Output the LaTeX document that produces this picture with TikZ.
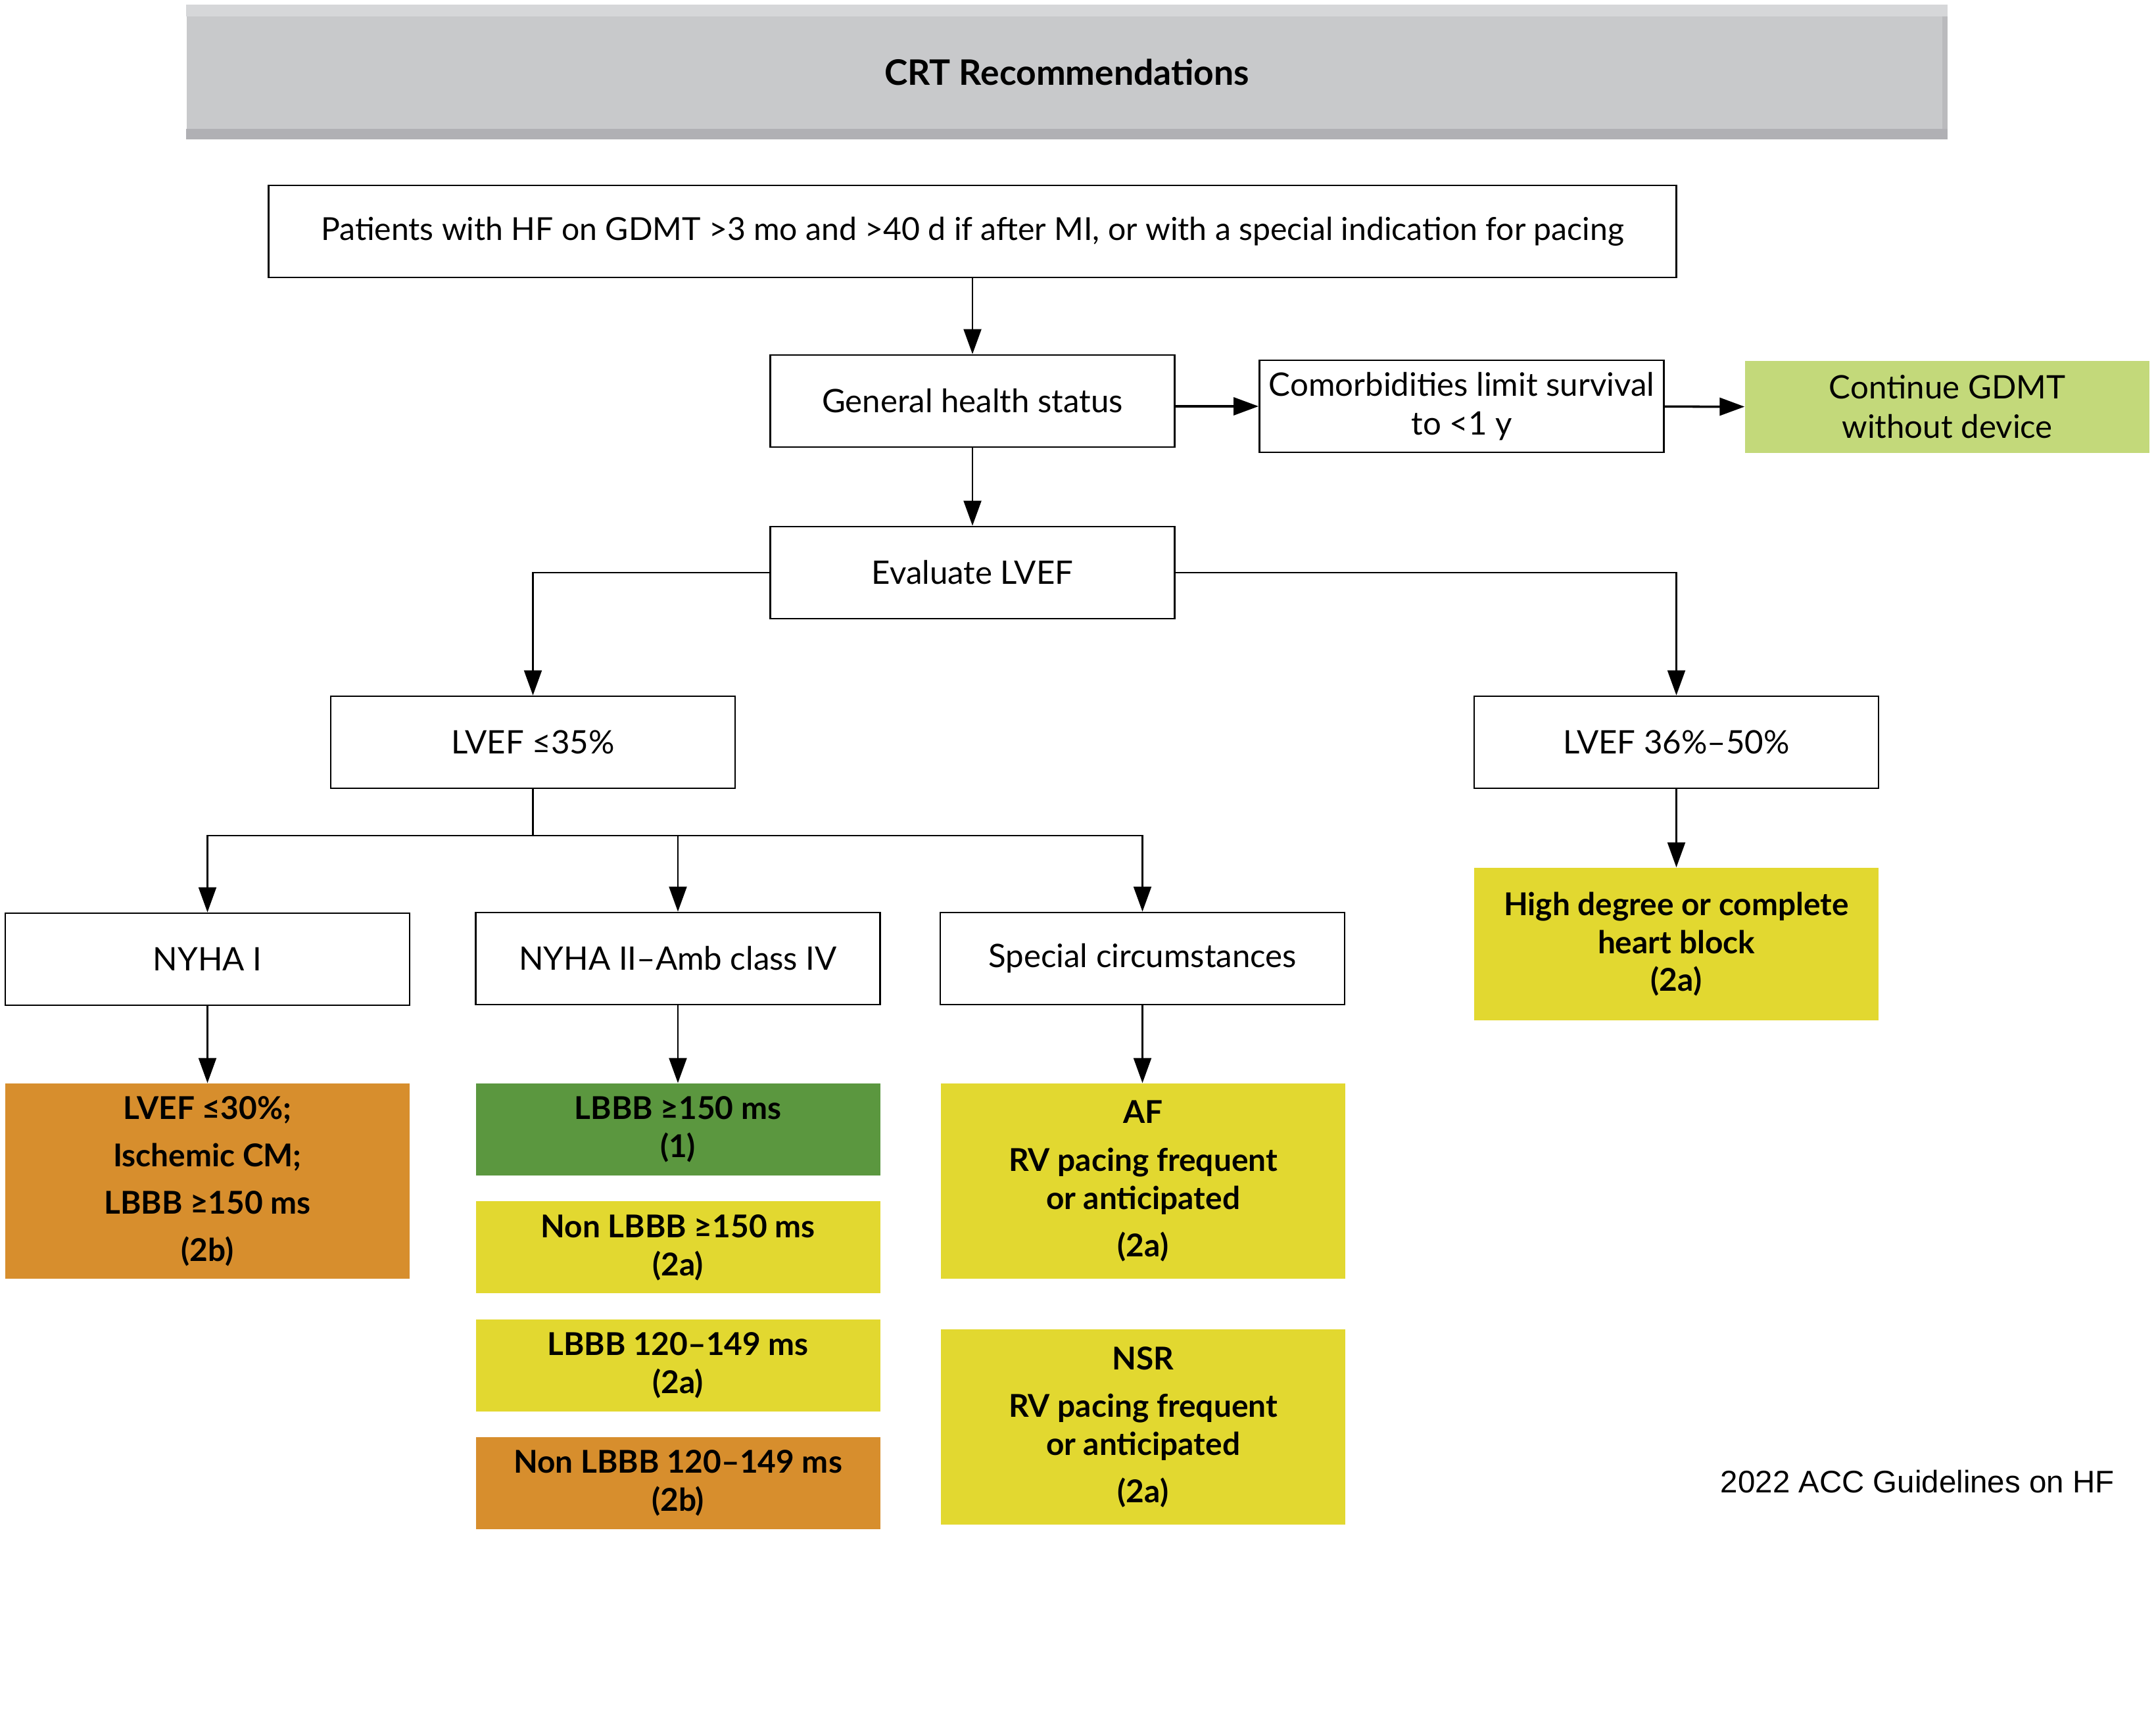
\documentclass[tikz,border=0pt]{standalone}
\usepackage{fontspec}
\setmainfont{Lato}
\newfontfamily\footfont{Liberation Sans}
\usetikzlibrary{positioning,arrows.meta}
\definecolor{titlegray}{HTML}{C8C9CB}
\definecolor{titletop}{HTML}{D6D7D9}
\definecolor{titlebot}{HTML}{B0B0B4}
\definecolor{paleg}{HTML}{C3D97A}
\definecolor{darkg}{HTML}{5B973F}
\definecolor{yell}{HTML}{E2D830}
\definecolor{oran}{HTML}{D78E2D}

\begin{document}
\begin{tikzpicture}[
  box/.style={draw,line width=0.8pt,minimum width=6.15cm,minimum height=1.4cm,
    align=center,font=\fontsize{14}{17}\selectfont},
  rec/.style={fill=#1,minimum width=6.15cm,minimum height=1.4cm,
    align=center,font=\bfseries\fontsize{13.6}{16.5}\selectfont},
  arr/.style={-{Triangle[length=0.38cm,width=0.27cm]},line width=0.6pt},
  node distance=0.38cm]
\useasboundingbox (0,0) rectangle (32.79,-26);

% title bar
\node[fill=titlegray,minimum width=26.77cm,minimum height=2.03cm,
  font=\bfseries\fontsize{15.2}{18}\selectfont] (title) at (16.225,-1.095) {CRT Recommendations};
\fill[titletop] (title.north west) rectangle ([yshift=-0.18cm]title.north east);
\fill[titlebot] ([yshift=0.16cm]title.south west) rectangle (title.south east);
\fill[titlebot!60!titlegray] ([xshift=-0.08cm,yshift=-0.18cm]title.north east) rectangle ([yshift=0.16cm]title.south east);

% main boxes
\node[box,minimum width=21.41cm,font=\fontsize{13.7}{17}\selectfont] (pat) at (14.79,-3.52)
  {Patients with HF on GDMT >3 mo and >40 d if after MI, or with a special indication for pacing};
\node[box] (gen) at (14.79,-6.10) {General health status};
\node[box] (comorb) at (22.23,-6.18) {Comorbidities limit survival\\to <1 y};
\node[rec=paleg,font=\fontsize{14}{17}\selectfont] (cont) at (29.615,-6.19) {Continue GDMT\\without device};
\node[box] (eval) at (14.79,-8.71) {Evaluate LVEF};
\node[box] (lv35) at (8.105,-11.29) {LVEF ≤35\%};
\node[box] (lv36) at (25.495,-11.29) {LVEF 36\%–50\%};
\node[box] (nyha1) at (3.155,-14.59) {NYHA I};
\node[box] (nyha2) at (10.31,-14.58) {NYHA II–Amb class IV};
\node[box] (spec) at (17.375,-14.58) {Special circumstances};
\node[rec=yell,minimum height=2.32cm] (block) at (25.495,-14.36)
  {High degree or complete\\heart block\\(2a)};

% recommendations
\node[rec=oran,minimum height=2.97cm,font=\bfseries\fontsize{13.6}{20.5}\selectfont] (isch) at (3.155,-17.965)
  {LVEF ≤30\%;\\Ischemic CM;\\LBBB ≥150 ms\\(2b)};
\node[rec=darkg] (lbbb1) at (10.31,-17.18) {LBBB ≥150 ms\\(1)};
\node[rec=yell,below=of lbbb1] (nonl1) {Non LBBB ≥150 ms\\(2a)};
\node[rec=yell,below=of nonl1] (lbbb2) {LBBB 120–149 ms\\(2a)};
\node[rec=oran,below=of lbbb2] (nonl2) {Non LBBB 120–149 ms\\(2b)};
\node[rec=yell,minimum height=2.97cm] (af) at (17.385,-17.965)
  {AF\\[4pt]RV pacing frequent\\or anticipated\\[4pt](2a)};
\node[rec=yell,minimum height=2.97cm] (nsr) at (17.385,-21.705)
  {NSR\\[4pt]RV pacing frequent\\or anticipated\\[4pt](2a)};

\node[font=\footfont\fontsize{13.5}{16}\selectfont,anchor=east] (src) at (32.28,-22.54)
  {2022 ACC Guidelines on HF};

% connectors
\draw[arr] (pat) -- (gen);
\draw[arr,line width=1pt] (gen.east |- comorb) -- (comorb);
\draw[arr,line width=1pt] (comorb) -- (cont);
\draw[arr] (gen) -- (eval);
\draw[arr] (eval.west) -| (lv35.north);
\draw[arr] (eval.east) -| (lv36.north);
\draw[line width=0.6pt] (lv35.south) -- ++(0,-0.71) coordinate (split);
\draw[arr] (split) -| (nyha1.north);
\draw[arr] (split) -| (nyha2.north);
\draw[arr] (split) -| (spec.north);
\draw[arr] (lv36) -- (block);
\draw[arr] (nyha1) -- (isch);
\draw[arr] (nyha2) -- (lbbb1);
\draw[arr] (spec.south) -- (spec.south |- af.north);
\end{tikzpicture}
\end{document}
